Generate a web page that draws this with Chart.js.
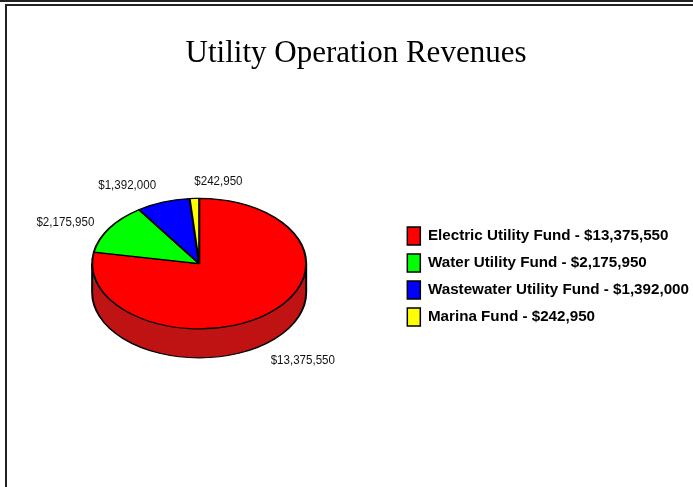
<!DOCTYPE html>
<html>
<head>
<meta charset="utf-8">
<title>Utility Operation Revenues</title>
<script src="https://cdn.jsdelivr.net/npm/chart.js@4"></script>
<style>
  html, body { margin: 0; padding: 0; background: #fff; }
  #wrap { position: relative; width: 693px; height: 487px; overflow: hidden; }
</style>
</head>
<body>
<div id="wrap"><canvas id="myChart" width="693" height="487"></canvas></div>
<script>
const funds = ["Electric Utility Fund", "Water Utility Fund", "Wastewater Utility Fund", "Marina Fund"];
const revenues = [13375550, 2175950, 1392000, 242950];
const sliceColors = ["#ff0000", "#00ff00", "#0000ff", "#ffff00"];
const sideColors = ["#c01414", "#00c000", "#0000c0", "#c0c000"];
// where each value label sits relative to the rim of its slice
const labelOffsets = [[35, 47], [-44, -6], [-36, -17], [24, -17]];

const squash = 0.61;
const depth = 29;

function money(v) {
  return "$" + v.toLocaleString("en-US");
}

const framePlugin = {
  id: "frame",
  beforeDraw(chart) {
    const c = chart.ctx;
    c.save();
    c.strokeStyle = "#222";
    c.lineWidth = 2;
    c.beginPath();
    c.moveTo(0, 1);
    c.lineTo(693, 1);
    c.moveTo(693, 5);
    c.lineTo(6, 5);
    c.lineTo(6, 487);
    c.stroke();
    c.restore();
  },
};

// tilts the pie: side wall first, then the library draws the slices squashed
const tiltPlugin = {
  id: "tilt",
  afterLayout(chart) {
    chart.titleBlock.left += 13;
  },
  beforeDatasetsDraw(chart) {
    const c = chart.ctx;
    const arcs = chart.getDatasetMeta(0).data;
    const x = arcs[0].x;
    const y = arcs[0].y;
    const r = arcs[0].outerRadius;
    c.save();
    c.translate(x, y);
    c.scale(1, squash);
    c.translate(-x, -y);
    const drop = depth / squash;
    arcs.forEach((arc, i) => {
      c.fillStyle = sideColors[i];
      for (let d = drop; d > 0; d -= 1) {
        c.beginPath();
        c.moveTo(x, y + d);
        c.arc(x, y + d, r, arc.startAngle, arc.endAngle);
        c.closePath();
        c.fill();
      }
    });
    c.strokeStyle = "#000";
    c.lineWidth = 2;
    c.beginPath();
    c.arc(x, y + drop, r, 0, Math.PI);
    c.moveTo(x + r, y);
    c.lineTo(x + r, y + drop);
    c.moveTo(x - r, y);
    c.lineTo(x - r, y + drop);
    c.stroke();
  },
  afterDatasetsDraw(chart) {
    const c = chart.ctx;
    c.restore();
    const arcs = chart.getDatasetMeta(0).data;
    arcs.forEach((arc, i) => {
      const mid = (arc.startAngle + arc.endAngle) / 2;
      const px = arc.x + arc.outerRadius * Math.cos(mid) + labelOffsets[i][0];
      const py = arc.y + arc.outerRadius * squash * Math.sin(mid) + labelOffsets[i][1];
      c.save();
      c.fillStyle = "#111";
      c.font = "13px 'Liberation Sans'";
      c.textAlign = "center";
      c.textBaseline = "middle";
      c.translate(px, py);
      c.scale(0.89, 1);
      c.fillText(money(revenues[i]), 0, 0);
      c.restore();
    });
  },
};

const config = {
  type: "pie",
  data: {
    labels: funds,
    datasets: [
      {
        data: revenues,
        backgroundColor: sliceColors,
        borderColor: "#000",
        borderWidth: 2,
        radius: 107,
        clip: false,
      },
    ],
  },
  options: {
    responsive: false,
    animation: false,
    layout: { padding: { left: 0, right: -6, top: 0, bottom: 152 } },
    plugins: {
      title: {
        display: true,
        text: "Utility Operation Revenues",
        color: "#000",
        font: { family: "'Liberation Serif'", size: 31, weight: "normal" },
        padding: { top: 35, bottom: 120 },
      },
      legend: {
        position: "right",
        align: "end",
        labels: {
          boxWidth: 13,
          boxHeight: 18,
          padding: 9,
          color: "#111",
          font: { family: "'Liberation Sans'", size: 15.2, weight: "bold" },
          generateLabels: (chart) =>
            funds.map((name, i) => ({
              text: name + " - " + money(revenues[i]),
              fillStyle: sliceColors[i],
              strokeStyle: "#000",
              lineWidth: 1.5,
              index: i,
            })),
        },
      },
      tooltip: { enabled: false },
    },
  },
  plugins: [framePlugin, tiltPlugin],
};

const myChart = new Chart(document.getElementById("myChart"), config);
</script>
</body>
</html>
